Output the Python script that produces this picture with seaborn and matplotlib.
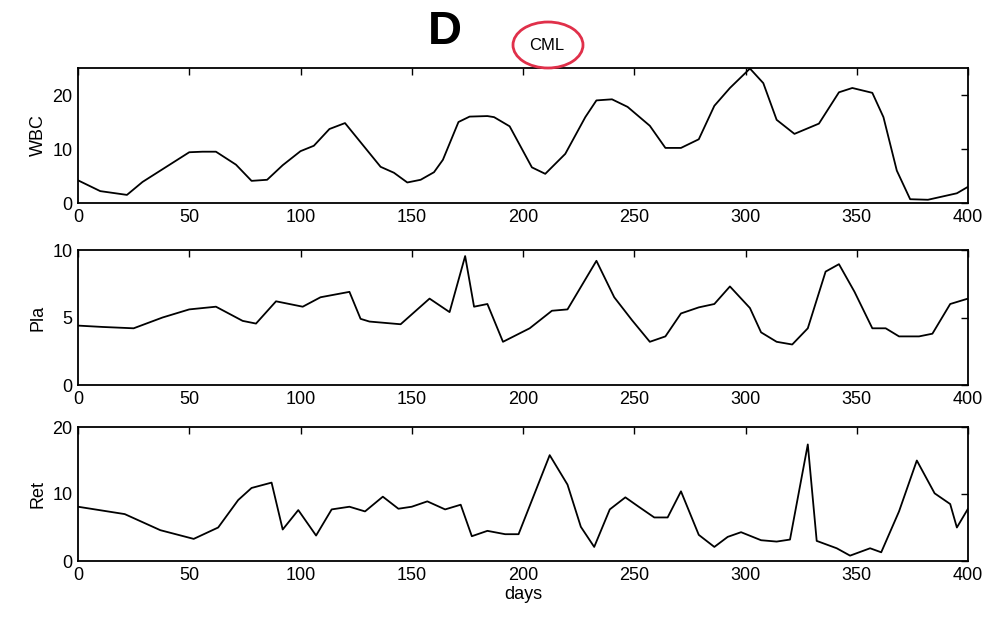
import matplotlib
matplotlib.use("Agg")
import matplotlib.pyplot as plt
from matplotlib.patches import Ellipse
import seaborn as sns

# values (days, counts)
wbc_days = [0, 10, 22, 29, 50, 56, 62, 71, 78, 85, 92, 100, 106, 113, 120, 136, 142, 148, 154, 160,
            164, 171, 176, 184, 187, 194, 204, 210, 219, 228, 233, 240, 247, 257, 264, 271, 279, 286,
            293, 302, 308, 314, 322, 333, 342, 348, 357, 362, 368, 374, 382, 395, 400]
wbc_vals = [4.2, 2.2, 1.5, 3.9, 9.4, 9.5, 9.5, 7.1, 4.1, 4.3, 7.0, 9.6, 10.6, 13.7, 14.8, 6.7, 5.6, 3.8, 4.3, 5.7,
            8.0, 15.0, 16.0, 16.1, 15.9, 14.2, 6.6, 5.4, 9.1, 15.9, 19.0, 19.2, 17.8, 14.3, 10.2, 10.2, 11.8, 18.0,
            21.3, 24.9, 22.2, 15.4, 12.8, 14.7, 20.5, 21.3, 20.4, 15.9, 6.0, 0.7, 0.6, 1.8, 3.0]

pla_days = [0, 11, 25, 38, 50, 62, 74, 80, 89, 101, 109, 122, 127, 131, 145, 158, 167, 174, 178, 184,
            191, 203, 213, 220, 233, 241, 249, 257, 264, 271, 279, 286, 293, 302, 307, 314, 321, 328,
            336, 342, 349, 357, 363, 369, 378, 384, 392, 400]
pla_vals = [4.4, 4.3, 4.2, 5.0, 5.6, 5.8, 4.75, 4.55, 6.2, 5.8, 6.5, 6.9, 4.9, 4.7, 4.5, 6.4, 5.4, 9.55, 5.8, 6.0,
            3.2, 4.2, 5.5, 5.6, 9.2, 6.5, 4.8, 3.2, 3.6, 5.3, 5.75, 6.0, 7.3, 5.7, 3.9, 3.2, 3.0, 4.2,
            8.4, 8.95, 6.9, 4.2, 4.2, 3.6, 3.6, 3.8, 6.0, 6.4]

ret_days = [0, 21, 37, 52, 63, 72, 78, 87, 92, 99, 107, 114, 122, 129, 137, 144, 150, 157, 165, 172,
            177, 184, 192, 198, 212, 220, 226, 232, 239, 246, 252, 259, 265, 271, 279, 286, 292, 298,
            307, 314, 320, 328, 332, 341, 347, 356, 361, 369, 377, 385, 392, 395, 400]
ret_vals = [8.1, 7.0, 4.6, 3.3, 5.0, 9.1, 10.9, 11.7, 4.7, 7.6, 3.8, 7.7, 8.1, 7.4, 9.6, 7.8, 8.1, 8.9, 7.7, 8.4,
            3.7, 4.5, 4.0, 4.0, 15.8, 11.4, 5.1, 2.1, 7.7, 9.5, 8.1, 6.5, 6.5, 10.4, 3.9, 2.1, 3.6, 4.3,
            3.1, 2.9, 3.2, 17.4, 3.0, 1.9, 0.8, 1.9, 1.3, 7.4, 15.0, 10.1, 8.5, 5.0, 7.8]

panels = [
    ("WBC", wbc_days, wbc_vals, 25, [0, 10, 20]),
    ("Pla", pla_days, pla_vals, 10, [0, 5, 10]),
    ("Ret", ret_days, ret_vals, 20, [0, 10, 20]),
]
xticks = [0, 50, 100, 150, 200, 250, 300, 350, 400]

sns.set_theme(style="white")
plt.rcParams["font.family"] = ["Liberation Sans", "DejaVu Sans"]
plt.rcParams["text.color"] = "black"
plt.rcParams["axes.labelcolor"] = "black"

fig = plt.figure(figsize=(9.9, 6.19), dpi=100)
W, H = 990, 619
# axes boxes in pixels: (top, bottom)
boxes = [(68, 203), (250, 385), (427, 561)]
left, right = 78, 968

for (name, days, vals, ymax, yt), (top, bot) in zip(panels, boxes):
    ax = fig.add_axes([left / W, 1 - bot / H, (right - left) / W, (bot - top) / H])
    sns.lineplot(x=days, y=vals, ax=ax, color="black", linewidth=1.3)
    ax.set_xlim(0, 400)
    ax.set_ylim(0, ymax)
    ax.set_xticks(xticks)
    ax.set_yticks(yt)
    ax.tick_params(direction="in", top=True, right=True, length=5, width=1,
                   labelsize=13, pad=4, colors="black")
    for s in ax.spines.values():
        s.set_color("black")
        s.set_linewidth(1.3)
    ax.set_ylabel(name, fontsize=13, labelpad=4)
    if name == "Ret":
        ax.set_xlabel("days", fontsize=13, labelpad=2)

fig.text(445 / W, 1 - 32 / H, "D", ha="center", va="center", fontsize=34, fontweight="bold")
fig.text(547 / W, 1 - 45 / H, "CML", ha="center", va="center", fontsize=12)
fig.add_artist(Ellipse((548 / W, 1 - 45 / H), 70 / W, 46 / H, transform=fig.transFigure,
                       fill=False, ec="#e0304a", lw=2))

fig.savefig("out.png", dpi=100)
